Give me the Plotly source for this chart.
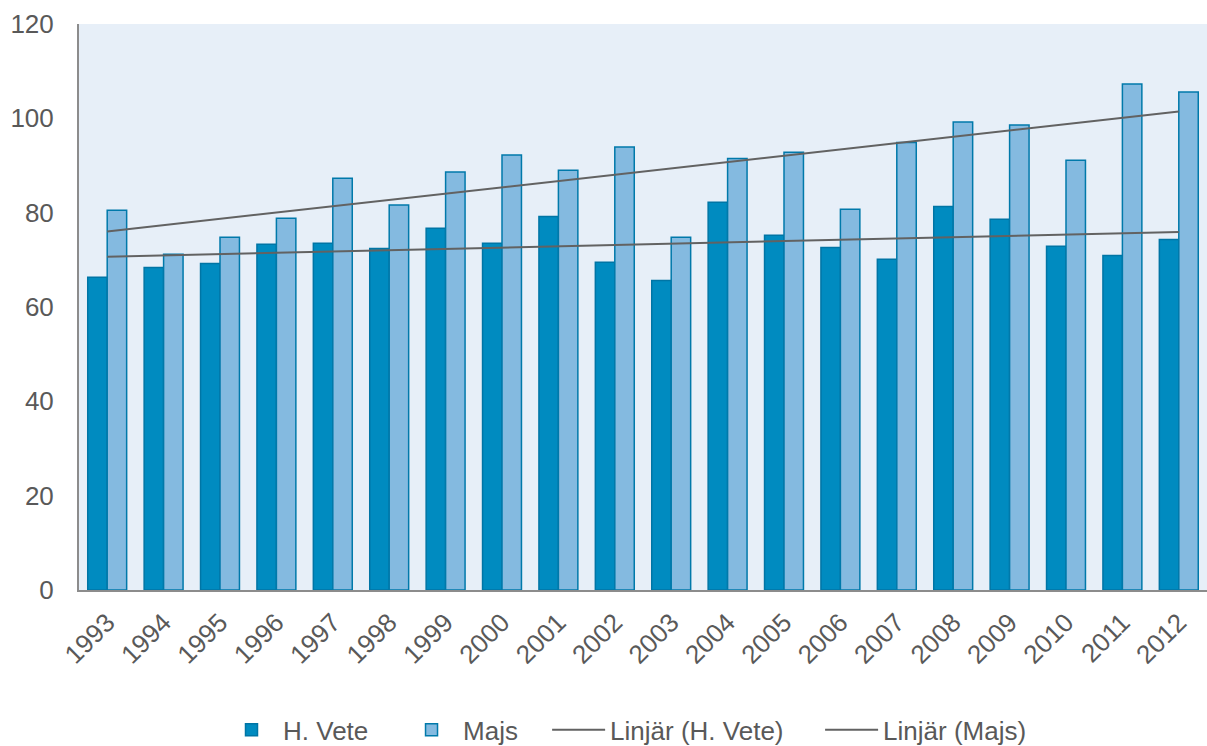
import numpy as np
import plotly.graph_objects as go

years = [str(y) for y in range(1993, 2013)]
h_vete = [66.3, 68.4, 69.2, 73.3, 73.5, 72.4, 76.7, 73.5, 79.2, 69.5,
          65.6, 82.2, 75.2, 72.6, 70.1, 81.3, 78.6, 72.9, 70.9, 74.3]
majs = [80.5, 71.2, 74.8, 78.8, 87.3, 81.6, 88.6, 92.2, 89.0, 93.9,
        74.8, 91.5, 92.8, 80.7, 94.9, 99.2, 98.6, 91.1, 107.3, 105.6]
y_ticks = [0, 20, 40, 60, 80, 100, 120]

idx = np.arange(len(years))
trend_hv = np.polyval(np.polyfit(idx, h_vete, 1), idx)
trend_mj = np.polyval(np.polyfit(idx, majs, 1), idx)

fig = go.Figure()
fig.add_trace(go.Bar(x=years, y=h_vete, name="H. Vete", legend="legend",
                     marker=dict(color="#008BC0", line=dict(color="#0075A5", width=1.5))))
fig.add_trace(go.Bar(x=years, y=majs, name="Majs", legend="legend2",
                     marker=dict(color="#84BAE0", line=dict(color="#0079AA", width=1.5))))
fig.add_trace(go.Scatter(x=years, y=trend_hv, name="Linjär (H. Vete)", mode="lines",
                         legend="legend3", line=dict(color="#626262", width=2)))
fig.add_trace(go.Scatter(x=years, y=trend_mj, name="Linjär (Majs)", mode="lines",
                         legend="legend4", line=dict(color="#626262", width=2)))

def leg(xp):
    return dict(orientation="h", x=xp, xanchor="left", y=-0.247, yanchor="middle",
                font=dict(size=26, color="#595959"), itemwidth=53,
                bgcolor="rgba(0,0,0,0)")

fig.update_layout(
    width=1207, height=746,
    margin=dict(l=79, r=0, t=24, b=156, autoexpand=False),
    paper_bgcolor="white", plot_bgcolor="#E7EFF8",
    barmode="group", bargap=0.31, bargroupgap=0,
    font=dict(family="Liberation Sans, Arial, sans-serif", color="#595959", size=26),
    showlegend=True,
    legend=leg(0.125), legend2=leg(0.2846), legend3=leg(0.415), legend4=leg(0.657),
    xaxis=dict(type="category", tickangle=-45, showgrid=False, showline=True,
               linecolor="#8C8C8C", linewidth=2, ticks="", tickfont=dict(size=26),
               ticklabelstandoff=5, automargin=False),
    yaxis=dict(range=[0, 120], tickvals=y_ticks, showgrid=False, zeroline=False,
               showline=True, linecolor="#8C8C8C", linewidth=2, ticks="",
               tickfont=dict(size=26), ticklabelstandoff=18, automargin=False),
)

fig.write_html("out.html")
